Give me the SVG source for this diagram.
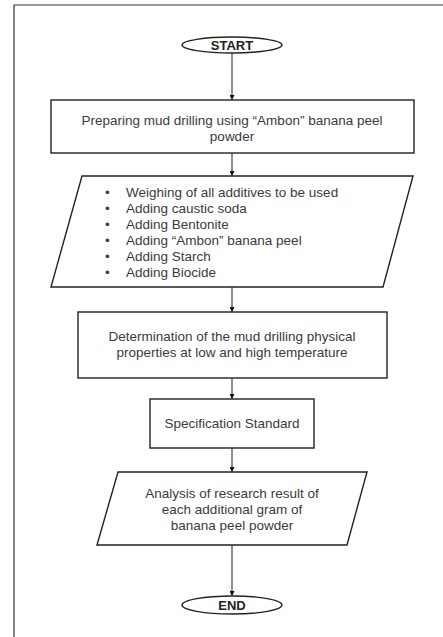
<svg xmlns="http://www.w3.org/2000/svg" width="443" height="637" viewBox="0 0 443 637">
<defs>
<style>
.shape{fill:#fff;stroke:#222;stroke-width:1.4}
.frame{fill:none;stroke:#333;stroke-width:1.2}
.conn{stroke:#222;stroke-width:1;fill:none;marker-end:url(#ah)}
.t{font-family:"Liberation Sans",Arial,sans-serif;font-size:13.5px;fill:#3a3a3a;text-anchor:middle}
.tl{font-family:"Liberation Sans",Arial,sans-serif;font-size:13.5px;fill:#3a3a3a}
.tb{font-family:"Liberation Sans",Arial,sans-serif;font-size:13px;font-weight:bold;fill:#222;text-anchor:middle}
</style>
<marker id="ah" viewBox="0 0 10 10" refX="10" refY="5" markerWidth="5" markerHeight="5" orient="auto" markerUnits="userSpaceOnUse">
<path d="M0,0 L10,5 L0,10 z" fill="#111"/>
</marker>
</defs>
<rect x="0" y="0" width="443" height="637" fill="#fff"/>
<path class="frame" d="M14,640 L14,5 L446,5"/>
<g id="connectors">
<line class="conn" x1="232" y1="53" x2="232" y2="100"/>
<line class="conn" x1="232" y1="153" x2="232" y2="176"/>
<line class="conn" x1="232" y1="287" x2="232" y2="312"/>
<line class="conn" x1="232" y1="378" x2="232" y2="399"/>
<line class="conn" x1="232" y1="448" x2="232" y2="472"/>
<line class="conn" x1="232" y1="545" x2="232" y2="596"/>
</g>
<g id="start">
<ellipse class="shape" cx="232" cy="45" rx="50" ry="8"/>
<text class="tb" x="232" y="50">START</text>
</g>
<g id="prepare">
<rect class="shape" x="51" y="100" width="363" height="53"/>
<text class="t" x="232" y="125">Preparing mud drilling using “Ambon” banana peel</text>
<text class="t" x="232" y="141">powder</text>
</g>
<g id="additives">
<polygon class="shape" points="82,176 413,176 383,287 51,287"/>
<g class="tl">
<text x="105" y="197">•</text><text x="126" y="197">Weighing of all additives to be used</text>
<text x="105" y="213">•</text><text x="126" y="213">Adding caustic soda</text>
<text x="105" y="229">•</text><text x="126" y="229">Adding Bentonite</text>
<text x="105" y="245">•</text><text x="126" y="245">Adding “Ambon” banana peel</text>
<text x="105" y="261">•</text><text x="126" y="261">Adding Starch</text>
<text x="105" y="277">•</text><text x="126" y="277">Adding Biocide</text>
</g>
</g>
<g id="determination">
<rect class="shape" x="78" y="312" width="309" height="66"/>
<text class="t" x="232" y="341">Determination of the mud drilling physical</text>
<text class="t" x="232" y="357">properties at low and high temperature</text>
</g>
<g id="standard">
<rect class="shape" x="150" y="399" width="164" height="49"/>
<text class="t" x="232" y="428">Specification Standard</text>
</g>
<g id="analysis">
<polygon class="shape" points="118,472 367,472 347,545 97,545"/>
<text class="t" x="232" y="498">Analysis of research result of</text>
<text class="t" x="232" y="514">each additional gram of</text>
<text class="t" x="232" y="530">banana peel powder</text>
</g>
<g id="end">
<ellipse class="shape" cx="232" cy="605" rx="50" ry="9"/>
<text class="tb" x="232" y="610">END</text>
</g>
</svg>
